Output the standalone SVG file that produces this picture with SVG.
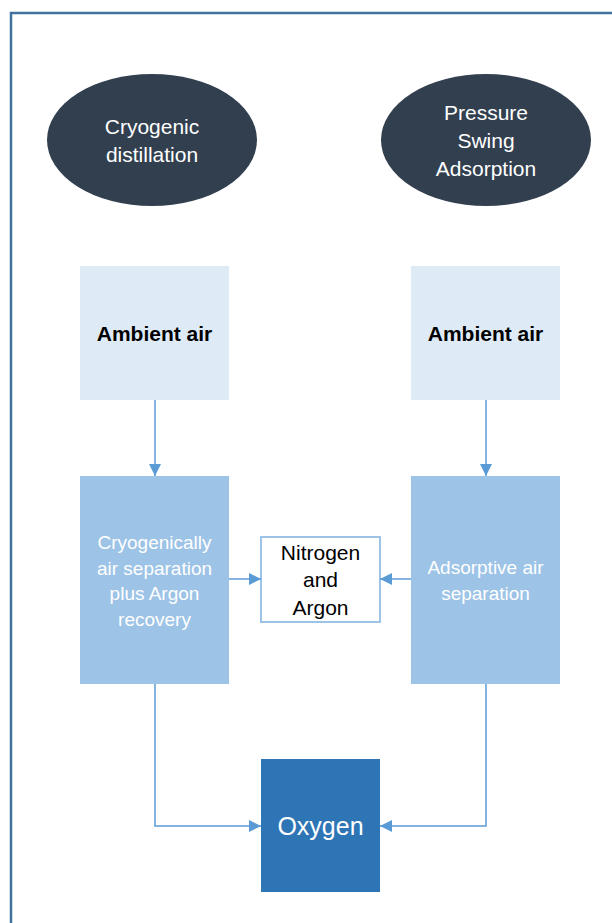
<svg xmlns="http://www.w3.org/2000/svg" width="612" height="923" viewBox="0 0 612 923">
  <style>
    .frame { fill: none; stroke: #41719C; stroke-width: 2.5; }
    .oval { fill: #323F4F; }
    .src { fill: #DEEAF6; }
    .proc { fill: #9DC3E6; }
    .out { fill: #FFFFFF; stroke: #9DC3E6; stroke-width: 2; }
    .prod { fill: #2E75B6; }
    .t { font-family: "Liberation Sans", Arial, sans-serif; text-anchor: middle; }
    .w { fill: #FFFFFF; }
    .k { fill: #000000; }
    .b { font-weight: bold; }
    .link { fill: none; stroke: #5B9BD5; stroke-width: 1.5; }
  </style>
  <defs>
    <marker id="arrow" viewBox="0 0 10 10" refX="10" refY="5" markerWidth="12" markerHeight="12" markerUnits="userSpaceOnUse" orient="auto">
      <path d="M0,0 L10,5 L0,10 z" fill="#5B9BD5"/>
    </marker>
  </defs>

  <rect x="0" y="0" width="612" height="923" fill="#FFFFFF"/>
  <!-- outer frame, open at right and bottom -->
  <path class="frame" d="M11,923 V13 H612"/>

  <g id="cryogenic">
    <ellipse class="oval" cx="152" cy="140" rx="105" ry="66"/>
    <text class="t w" font-size="21" x="152" y="134">Cryogenic</text>
    <text class="t w" font-size="21" x="152" y="162">distillation</text>
  </g>

  <g id="psa">
    <ellipse class="oval" cx="486" cy="140" rx="105" ry="66"/>
    <text class="t w" font-size="21" x="486" y="120">Pressure</text>
    <text class="t w" font-size="21" x="486" y="148">Swing</text>
    <text class="t w" font-size="21" x="486" y="176">Adsorption</text>
  </g>

  <g id="air-left">
    <rect class="src" x="80" y="266" width="149" height="134"/>
    <text class="t k b" font-size="21" x="154.5" y="341">Ambient air</text>
  </g>

  <g id="air-right">
    <rect class="src" x="411" y="266" width="149" height="134"/>
    <text class="t k b" font-size="21" x="485.5" y="341">Ambient air</text>
  </g>

  <g id="cryo-separation">
    <rect class="proc" x="80" y="476" width="149" height="208"/>
    <text class="t w" font-size="19" x="154.5" y="549">Cryogenically</text>
    <text class="t w" font-size="19" x="154.5" y="575">air separation</text>
    <text class="t w" font-size="19" x="154.5" y="600">plus Argon</text>
    <text class="t w" font-size="19" x="154.5" y="626">recovery</text>
  </g>

  <g id="adsorptive-separation">
    <rect class="proc" x="411" y="476" width="149" height="208"/>
    <text class="t w" font-size="19" x="485.5" y="574">Adsorptive air</text>
    <text class="t w" font-size="19" x="485.5" y="600">separation</text>
  </g>

  <g id="nitrogen-argon">
    <rect class="out" x="261" y="537" width="119" height="85"/>
    <text class="t k" font-size="21" x="320.5" y="560">Nitrogen</text>
    <text class="t k" font-size="21" x="320.5" y="587">and</text>
    <text class="t k" font-size="21" x="320.5" y="615">Argon</text>
  </g>

  <g id="oxygen">
    <rect class="prod" x="261" y="759" width="119" height="133"/>
    <text class="t w" font-size="25" x="320.5" y="835">Oxygen</text>
  </g>

  <g id="connectors">
    <path class="link" d="M155,400 V476" marker-end="url(#arrow)"/>
    <path class="link" d="M486,400 V476" marker-end="url(#arrow)"/>
    <path class="link" d="M229,579 H261" marker-end="url(#arrow)"/>
    <path class="link" d="M411,579 H380" marker-end="url(#arrow)"/>
    <path class="link" d="M155,684 V826 H261" marker-end="url(#arrow)"/>
    <path class="link" d="M486,684 V826 H380" marker-end="url(#arrow)"/>
  </g>
</svg>
